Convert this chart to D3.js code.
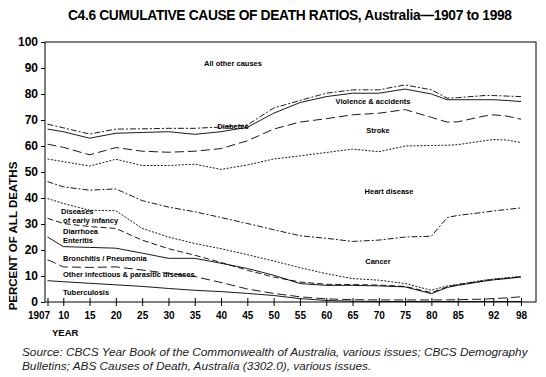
<!DOCTYPE html>
<html>
<head>
<meta charset="utf-8">
<script src="https://cdn.jsdelivr.net/npm/d3@7"></script>
<style>
  body { margin: 0; background: #fff; }
  svg { display: block; font-family: "Liberation Sans", Arial, sans-serif; }
  .lbl { font-size: 7.5px; font-weight: bold; fill: #000; }
</style>
</head>
<body>
<div id="chart"></div>
<script>
// Cumulative cause-of-death boundaries (percent of all deaths).
// Each array is the top edge of that cause's band.
const years = [1907, 1910, 1915, 1920, 1925, 1930, 1935, 1940, 1945, 1950, 1955,
               1960, 1965, 1970, 1975, 1980, 1983, 1985, 1990, 1992, 1995, 1998];

const tuberculosis   = [8.2, 7.8, 7.2, 6.6, 6.0, 5.2, 4.5, 4.0, 3.3, 2.5, 1.3, 0.6, 0.3, 0.2, 0.2, 0.2, 0.2, 0.2, 0.2, 0.2, 0.2, 0.2];
const otherInfect    = [16.3, 13.5, 13.3, 13.5, 12.3, 11.0, 9.8, 7.5, 5.0, 3.3, 2.0, 1.2, 0.9, 0.8, 0.8, 0.8, 0.8, 0.9, 1.1, 1.3, 1.6, 2.0];
const bronchitis     = [25.0, 21.3, 21.0, 20.7, 18.8, 16.8, 16.8, 14.9, 12.9, 10.3, 7.1, 6.4, 6.4, 6.2, 5.8, 3.2, 5.6, 6.4, 8.0, 8.5, 9.0, 9.6];
const diarrhoea      = [32.2, 30.2, 29.0, 28.3, 23.8, 20.5, 18.0, 15.2, 12.2, 9.6, 7.7, 6.8, 6.7, 6.5, 6.0, 3.6, 5.8, 6.7, 8.2, 8.7, 9.2, 9.7];
const earlyInfancy   = [39.8, 37.9, 35.3, 35.1, 28.3, 25.0, 22.5, 20.5, 18.2, 15.8, 13.2, 10.9, 9.0, 8.4, 7.1, 4.5, 6.2, 6.7, 8.4, 8.8, 9.3, 9.8];
const cancer         = [46.3, 44.3, 43.0, 43.5, 39.0, 36.5, 34.7, 32.5, 30.2, 27.8, 25.5, 24.5, 23.3, 23.8, 25.0, 25.3, 32.5, 33.3, 34.5, 35.0, 35.6, 36.2];
const heartDisease   = [55.0, 54.0, 52.3, 54.9, 52.5, 52.5, 53.0, 51.0, 52.7, 55.0, 56.2, 57.5, 58.8, 57.8, 60.0, 60.2, 60.3, 60.5, 62.0, 62.5, 62.3, 61.3];
const stroke         = [60.7, 59.5, 56.6, 59.4, 58.0, 57.6, 58.0, 59.0, 62.0, 66.5, 69.2, 70.5, 72.0, 72.6, 74.0, 71.0, 69.2, 69.3, 71.5, 72.0, 71.5, 70.3];
const violence       = [66.5, 65.5, 63.0, 64.9, 65.2, 65.5, 64.5, 65.5, 67.2, 72.6, 76.7, 79.0, 80.3, 80.3, 81.9, 80.0, 77.8, 77.8, 77.8, 77.8, 77.5, 77.1];
const diabetes       = [68.4, 67.0, 64.6, 66.5, 66.6, 66.8, 66.8, 67.3, 68.1, 74.6, 77.5, 80.3, 81.6, 81.6, 83.5, 81.6, 78.4, 78.6, 79.4, 79.4, 79.2, 79.0];

const tickYears  = [1907, 1910, 1915, 1920, 1925, 1930, 1935, 1940, 1945, 1950, 1955, 1960,
                    1965, 1970, 1975, 1980, 1985, 1990, 1992, 1995, 1998];
const tickLabels = {1907: "1907", 1910: "10", 1915: "15", 1920: "20", 1925: "25", 1930: "30",
                    1935: "35", 1940: "40", 1945: "45", 1950: "50", 1955: "55", 1960: "60",
                    1965: "65", 1970: "70", 1975: "75", 1980: "80", 1985: "85", 1992: "92", 1998: "98"};

// line style per boundary
const boundaries = [
    { values: tuberculosis, dash: null },
    { values: otherInfect,  dash: "9,4" },
    { values: bronchitis,   dash: null },
    { values: diarrhoea,    dash: "6,3" },
    { values: earlyInfancy, dash: "2,1.5" },
    { values: cancer,       dash: "6,2,2,2" },
    { values: heartDisease, dash: "2,1.5" },
    { values: stroke,       dash: "9,4" },
    { values: violence,     dash: null },
    { values: diabetes,     dash: "6,2,2,2" }
];

// band labels: [text lines, x, y, anchor]
const bandLabels = [
    [["All other causes"], 233, 66, "middle"],
    [["Violence & accidents"], 373, 104, "middle"],
    [["Diabetes"], 233, 129, "middle"],
    [["Stroke"], 378, 133, "middle"],
    [["Heart disease"], 389, 194, "middle"],
    [["Diseases", " of early infancy"], 61, 214, "start"],
    [["Diarrhoea", "Enteritis"], 63, 234, "start"],
    [["Bronchitis / Pneumonia"], 63, 261, "start"],
    [["Other infectious & parasitic diseases"], 63, 277, "start"],
    [["Cancer"], 378, 264, "middle"],
    [["Tuberculosis"], 63, 295, "start"]
];

const W = 546, H = 377;
const plot = { left: 45, right: 536, top: 42, bottom: 302 };

const svg = d3.select("#chart").append("svg")
    .attr("width", W).attr("height", H);

svg.append("rect").attr("width", W).attr("height", H).attr("fill", "#fff");

// title
svg.append("text")
    .attr("x", 290).attr("y", 20)
    .attr("text-anchor", "middle")
    .attr("font-size", 13.8).attr("font-weight", "bold")
    .attr("textLength", 444)
    .text("C4.6 CUMULATIVE CAUSE OF DEATH RATIOS, Australia\u20141907 to 1998");

const x = d3.scaleLinear().domain([1907, 1990, 1998]).range([47.5, 484, 521]);
const y = d3.scaleLinear().domain([0, 100]).range([plot.bottom, plot.top]);

// frame
svg.append("rect")
    .attr("x", plot.left).attr("y", plot.top)
    .attr("width", plot.right - plot.left).attr("height", plot.bottom - plot.top)
    .attr("fill", "none").attr("stroke", "#000").attr("stroke-width", 1);

// y axis
const yAxis = svg.append("g")
    .attr("transform", `translate(${plot.left},0)`)
    .call(d3.axisLeft(y).tickValues(d3.range(0, 101, 10)).tickSize(4).tickPadding(3));
yAxis.select(".domain").remove();
yAxis.selectAll("text")
    .attr("font-size", 12).attr("font-weight", "bold")
    .attr("font-family", "Liberation Sans, Arial, sans-serif").attr("fill", "#000");

// x axis: ticks crossing the base line
const xAxis = svg.append("g")
    .attr("transform", `translate(0,${plot.bottom})`)
    .call(d3.axisBottom(x).tickValues(tickYears).tickSize(4).tickPadding(6)
        .tickFormat(d => tickLabels[d] || ""));
xAxis.select(".domain").remove();
xAxis.selectAll(".tick line").attr("y1", -4);
xAxis.selectAll("text")
    .attr("font-size", 10).attr("font-weight", "bold")
    .attr("font-family", "Liberation Sans, Arial, sans-serif").attr("fill", "#000")
    .attr("dx", d => d === 1907 ? -9 : 0);

// boundary lines
const line = d3.line()
    .x((d, i) => x(years[i]))
    .y(d => y(d));

svg.append("g").selectAll("path")
    .data(boundaries)
    .join("path")
    .attr("d", d => line(d.values))
    .attr("fill", "none")
    .attr("stroke", "#000")
    .attr("stroke-width", 0.9)
    .attr("stroke-dasharray", d => d.dash);

// band labels
const lg = svg.append("g");
bandLabels.forEach(([lines, lx, ly, anchor]) => {
    const t = lg.append("text").attr("class", "lbl")
        .attr("x", lx).attr("y", ly).attr("text-anchor", anchor);
    lines.forEach((s, i) => {
        t.append("tspan").attr("x", lx).attr("dy", i ? 8.5 : 0).text(s);
    });
});

// axis titles
svg.append("text")
    .attr("transform", "translate(17,236) rotate(-90)")
    .attr("text-anchor", "middle")
    .attr("font-size", 11.5).attr("font-weight", "bold")
    .text("PERCENT OF ALL DEATHS");

svg.append("text")
    .attr("x", 52).attr("y", 336)
    .attr("font-size", 9.5).attr("font-weight", "bold")
    .text("YEAR");

// source note
const src = svg.append("text")
    .attr("font-size", 11.8).attr("font-style", "italic").attr("fill", "#222");
src.append("tspan").attr("x", 22).attr("y", 356)
    .text("Source: CBCS Year Book of the Commonwealth of Australia, various issues; CBCS Demography");
src.append("tspan").attr("x", 22).attr("y", 370)
    .text("Bulletins; ABS Causes of Death, Australia (3302.0), various issues.");
</script>
</body>
</html>
